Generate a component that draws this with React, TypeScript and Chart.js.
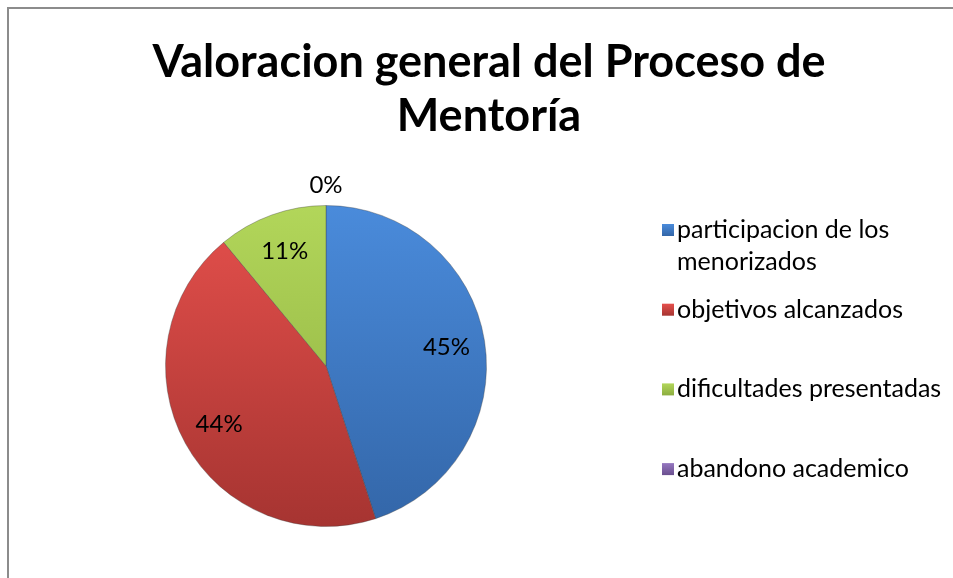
import React, { useEffect, useRef } from "react";
import { Chart, registerables } from "chart.js";

Chart.register(...registerables);

const titleLines = ["Valoracion general del Proceso de", "Mentoría"];
const categories = [
  "participacion de los menorizados",
  "objetivos alcanzados",
  "dificultades presentadas",
  "abandono academico",
];
const legendLines = [
  ["participacion de los", "menorizados"],
  ["objetivos alcanzados"],
  ["dificultades presentadas"],
  ["abandono academico"],
];
const values = [45, 44, 11, 0];
const percentLabels = ["45%", "44%", "11%", "0%"];
const topColors = ["#4a8bdb", "#e5504c", "#b2d65a", "#9577c0"];
const bottomColors = ["#3366a8", "#a63431", "#8cad3f", "#6a4f8e"];

const FONT = "Lato, 'Open Sans', sans-serif";

const titlePlugin = {
  id: "customTitle",
  afterDraw(chart: any) {
    const ctx = chart.ctx;
    ctx.save();
    ctx.fillStyle = "#000";
    ctx.font = `bold 45px ${FONT}`;
    ctx.textAlign = "center";
    ctx.textBaseline = "middle";
    ctx.fillText(titleLines[0], 480, 53);
    ctx.fillText(titleLines[1], 480, 107);
    ctx.restore();
  },
};

const legendPlugin = {
  id: "customLegend",
  afterDraw(chart: any) {
    const ctx = chart.ctx;
    ctx.save();
    ctx.font = `25px ${FONT}`;
    ctx.textBaseline = "middle";
    ctx.textAlign = "left";
    const startY = 221;
    const step = 79.7;
    legendLines.forEach((lines, i) => {
      const y = startY + i * step;
      const g = ctx.createLinearGradient(0, y - 6, 0, y + 6);
      g.addColorStop(0, topColors[i]);
      g.addColorStop(1, bottomColors[i]);
      ctx.fillStyle = g;
      ctx.fillRect(653, y - 6, 12, 12);
      ctx.fillStyle = "#000";
      lines.forEach((line, j) => {
        ctx.fillText(line, 668, y + j * 32);
      });
    });
    ctx.restore();
  },
};

const labelPlugin = {
  id: "sliceLabels",
  afterDatasetsDraw(chart: any) {
    const ctx = chart.ctx;
    const meta = chart.getDatasetMeta(0);
    ctx.save();
    ctx.font = `24px ${FONT}`;
    ctx.fillStyle = "#000";
    ctx.textAlign = "center";
    ctx.textBaseline = "middle";
    meta.data.forEach((arc: any, i: number) => {
      const p = arc.getProps(["x", "y", "startAngle", "endAngle", "outerRadius"], true);
      const mid = (p.startAngle + p.endAngle) / 2;
      const r = values[i] === 0 ? p.outerRadius + 20 : p.outerRadius * 0.76;
      const x = p.x + Math.cos(mid) * r;
      const y = p.y + Math.sin(mid) * r;
      ctx.fillText(percentLabels[i], x, y);
    });
    ctx.restore();
  },
};

export default function App() {
  const canvasRef = useRef<HTMLCanvasElement | null>(null);

  useEffect(() => {
    const canvas = canvasRef.current;
    if (!canvas) return;
    const chart = new Chart(canvas, {
      type: "pie",
      data: {
        labels: categories,
        datasets: [
          {
            data: values,
            backgroundColor: (c: any) => {
              const area = c.chart.chartArea;
              const i = c.dataIndex;
              if (!area) return topColors[i];
              const g = c.chart.ctx.createLinearGradient(0, area.top, 0, area.bottom);
              g.addColorStop(0, topColors[i]);
              g.addColorStop(1, bottomColors[i]);
              return g;
            },
            borderColor: "rgba(60,60,60,0.35)",
            borderWidth: 1,
          },
        ],
      },
      options: {
        responsive: false,
        animation: false,
        layout: { padding: { left: 156, right: 466, top: 196, bottom: 51 } },
        plugins: {
          legend: { display: false },
          title: { display: false },
          tooltip: { enabled: false },
        },
      },
      plugins: [titlePlugin, legendPlugin, labelPlugin],
    });
    return () => chart.destroy();
  }, []);

  return (
    <div
      style={{
        position: "fixed",
        left: 7,
        top: 7,
        width: 946,
        height: 571,
        borderTop: "2px solid #8c8c8c",
        borderLeft: "2px solid #8c8c8c",
        boxSizing: "border-box",
        overflow: "hidden",
        background: "#fff",
      }}
    >
      <canvas ref={canvasRef} width={944} height={569} style={{ display: "block" }} />
    </div>
  );
}
